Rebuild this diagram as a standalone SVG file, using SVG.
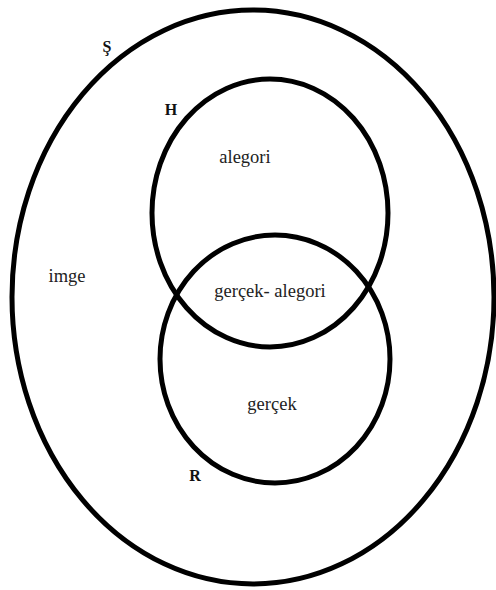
<svg xmlns="http://www.w3.org/2000/svg" width="496" height="590" viewBox="0 0 496 590">
<style>
.ring{fill:none;stroke:#000;stroke-width:5}
text{font-family:'Liberation Serif','Times New Roman','DejaVu Serif',serif}
.lbl{font-size:18.5px;fill:#222}
.tag{font-size:16px;fill:#111}
</style>
<rect width="496" height="590" fill="#fff"/>
<g id="S">
<ellipse class="ring" cx="253" cy="297" rx="241" ry="287"/>
<text class="tag" x="107" y="52" text-anchor="middle" font-weight="bold" font-family="Liberation Serif, serif">Ş</text>
<text class="lbl" x="67" y="282" text-anchor="middle" font-family="Liberation Serif, serif">imge</text>
</g>
<g id="H">
<ellipse class="ring" cx="270" cy="213" rx="118" ry="134"/>
<text class="tag" x="171" y="115" text-anchor="middle" font-weight="bold" font-family="Liberation Serif, serif">H</text>
<text class="lbl" x="245" y="163" text-anchor="middle" font-family="Liberation Serif, serif">alegori</text>
</g>
<g id="R">
<ellipse class="ring" cx="275" cy="359" rx="115" ry="124"/>
<text class="tag" x="195" y="481" text-anchor="middle" font-weight="bold" font-family="Liberation Serif, serif">R</text>
<text class="lbl" x="272" y="410" text-anchor="middle" font-family="Liberation Serif, serif">gerçek</text>
</g>
<g id="HR">
<text class="lbl" x="270" y="297" text-anchor="middle" font-family="Liberation Serif, serif">gerçek- alegori</text>
</g>
<g id="connectors"/>
</svg>
